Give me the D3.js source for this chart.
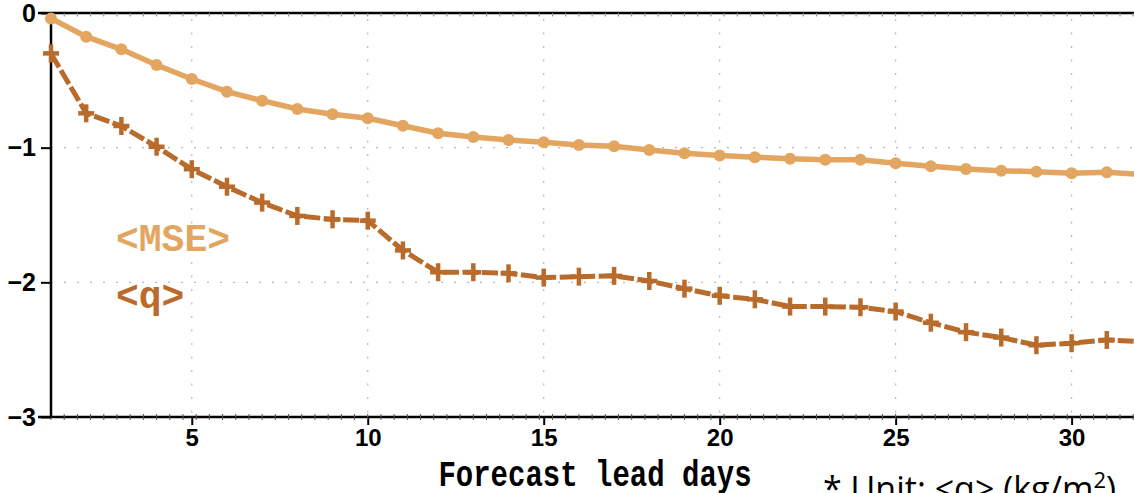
<!DOCTYPE html>
<html>
<head>
<meta charset="utf-8">
<script src="https://cdn.jsdelivr.net/npm/d3@7"></script>
<style>
  html, body { margin: 0; padding: 0; background: #fff; overflow: hidden; }
  svg { display: block; }
</style>
</head>
<body>
<svg id="chart" width="1134" height="493"></svg>
<script>
// ---- data ----
const days = [1,2,3,4,5,6,7,8,9,10,11,12,13,14,15,16,17,18,19,20,21,22,23,24,25,26,27,28,29,30,31,32];
const mseValues = [-0.04,-0.176,-0.27,-0.386,-0.49,-0.584,-0.651,-0.713,-0.752,-0.782,-0.837,-0.893,-0.921,-0.943,-0.96,-0.98,-0.99,-1.017,-1.042,-1.059,-1.071,-1.082,-1.089,-1.089,-1.116,-1.138,-1.158,-1.171,-1.178,-1.19,-1.183,-1.2];
const qValues = [-0.30,-0.745,-0.839,-0.993,-1.16,-1.29,-1.408,-1.507,-1.532,-1.542,-1.763,-1.925,-1.925,-1.933,-1.965,-1.958,-1.952,-1.99,-2.047,-2.10,-2.126,-2.18,-2.18,-2.185,-2.217,-2.30,-2.37,-2.41,-2.467,-2.452,-2.428,-2.44];
const xTicks = [5,10,15,20,25,30];
const yTicks = [0,-1,-2,-3];
const yTickLabels = ["0","\u22121","\u22122","\u22123"];
const xLabel = "Forecast lead days";
const seriesLabels = ["<MSE>", "<q>"];
const unitNote = "* Unit: <q> (kg/m\u00B2)";

// ---- styles ----
const mseColor = "#E3A660";
const qColor = "#B96B2B";

const svg = d3.select("#chart");
const x = d3.scaleLinear().domain([1, 32]).range([51, 1142]);
const y = d3.scaleLinear().domain([0, -3]).range([13, 417]);

const minorX = d3.range(1, 32.01, 0.375);

// grid (dotted)
const grid = svg.append("g");
grid.selectAll("line.vg").data(xTicks).join("line")
  .attr("x1", d => x(d)).attr("x2", d => x(d))
  .attr("y1", y(0) + 6).attr("y2", y(-3))
  .attr("stroke", "#b8b8b8").attr("stroke-width", 1.2)
  .attr("stroke-dasharray", "2,11.5");
grid.selectAll("line.hg").data([-1, -2]).join("line")
  .attr("x1", x(1)).attr("x2", 1134)
  .attr("y1", d => y(d)).attr("y2", d => y(d))
  .attr("stroke", "#b8b8b8").attr("stroke-width", 1.2)
  .attr("stroke-dasharray", "2,11");

// axes
const axisG = svg.append("g");
// top axis
axisG.append("line").attr("x1", x(1) - 13).attr("x2", 1134)
  .attr("y1", y(0)).attr("y2", y(0)).attr("stroke", "#000").attr("stroke-width", 2.5);
axisG.selectAll("line.tmin").data(minorX).join("line")
  .attr("x1", d => x(d)).attr("x2", d => x(d))
  .attr("y1", y(0)).attr("y2", y(0) + 3.5)
  .attr("stroke", "#888").attr("stroke-width", 1);
// bottom axis
const bottomAxis = d3.axisBottom(x).tickValues(xTicks).tickSize(8).tickFormat(d3.format("d"));
const bAx = axisG.append("g").attr("transform", `translate(0,${y(-3)})`).call(bottomAxis);
bAx.select(".domain").remove();
bAx.selectAll(".tick line").attr("stroke", "#000").attr("stroke-width", 2);
bAx.selectAll(".tick text")
  .attr("y", 29)
  .attr("dy", 0)
  .style("font-family", "'Liberation Sans Narrow', 'Liberation Sans', Arial, sans-serif")
  .style("font-weight", "bold").style("font-size", "24px").attr("fill", "#000");
axisG.append("line").attr("x1", x(1) - 13).attr("x2", 1134)
  .attr("y1", y(-3)).attr("y2", y(-3)).attr("stroke", "#000").attr("stroke-width", 2.5);
axisG.selectAll("line.bmin").data(minorX).join("line")
  .attr("x1", d => x(d)).attr("x2", d => x(d))
  .attr("y1", y(-3) - 3).attr("y2", y(-3) + 3)
  .attr("stroke", "#555").attr("stroke-width", 1);
// left axis
const leftAxis = d3.axisLeft(y).tickValues(yTicks).tickSize(10).tickFormat((d, i) => yTickLabels[i]);
const lAx = axisG.append("g").attr("transform", `translate(${x(1)},0)`).call(leftAxis);
lAx.select(".domain").remove();
lAx.selectAll(".tick line").attr("stroke", "#000").attr("stroke-width", 2);
lAx.selectAll(".tick text")
  .attr("x", -15)
  .style("font-family", "'Liberation Sans Narrow', 'Liberation Sans', Arial, sans-serif")
  .style("font-weight", "bold").style("font-size", "25px").attr("fill", "#000");
axisG.append("line").attr("x1", x(1)).attr("x2", x(1))
  .attr("y1", y(0)).attr("y2", y(-3)).attr("stroke", "#000").attr("stroke-width", 2.5);

// series
const line = d3.line().x((d, i) => x(days[i])).y(d => y(d));
const plot = svg.append("g");

plot.append("path").datum(mseValues).attr("d", line)
  .attr("fill", "none").attr("stroke", mseColor).attr("stroke-width", 5.5)
  .attr("stroke-linejoin", "round");
plot.selectAll("circle.mse").data(mseValues).join("circle")
  .attr("cx", (d, i) => x(days[i])).attr("cy", d => y(d)).attr("r", 6)
  .attr("fill", mseColor);

plot.append("path").datum(qValues).attr("d", line)
  .attr("fill", "none").attr("stroke", qColor).attr("stroke-width", 5)
  .attr("stroke-dasharray", "16,3.5");
plot.selectAll("g.qm").data(qValues).join("g")
  .attr("transform", (d, i) => `translate(${x(days[i])},${y(d)})`)
  .each(function () {
    const g = d3.select(this);
    g.append("line").attr("x1", -8).attr("x2", 8).attr("y1", 0).attr("y2", 0)
      .attr("stroke", qColor).attr("stroke-width", 4.5);
    g.append("line").attr("x1", 0).attr("x2", 0).attr("y1", -9).attr("y2", 9)
      .attr("stroke", qColor).attr("stroke-width", 4.5);
  });

// series labels
const monoFont = "'Liberation Mono', 'Courier New', monospace";
svg.append("text").attr("x", 116).attr("y", 251)
  .style("font-family", monoFont).style("font-weight", "bold").style("font-size", "38px")
  .attr("fill", mseColor).text(seriesLabels[0]);
svg.append("text").attr("x", 116).attr("y", 308)
  .style("font-family", monoFont).style("font-weight", "bold").style("font-size", "38px")
  .attr("fill", qColor).text(seriesLabels[1]);

// x label
svg.append("text")
  .attr("transform", "translate(595,486) scale(1,1.3)")
  .attr("text-anchor", "middle")
  .style("font-family", monoFont).style("font-weight", "bold").style("font-size", "29px")
  .attr("fill", "#000").text(xLabel);

// unit note
const note = svg.append("text").attr("x", 823).attr("y", 501)
  .style("font-family", "'Open Sans', 'Noto Sans', sans-serif").style("font-size", "34px")
  .attr("fill", "#000");
note.append("tspan").text("* Unit: <q> (kg/m");
note.append("tspan").attr("dy", -13).style("font-size", "22px").text("2");
note.append("tspan").attr("dy", 13).text(")");
</script>
</body>
</html>
